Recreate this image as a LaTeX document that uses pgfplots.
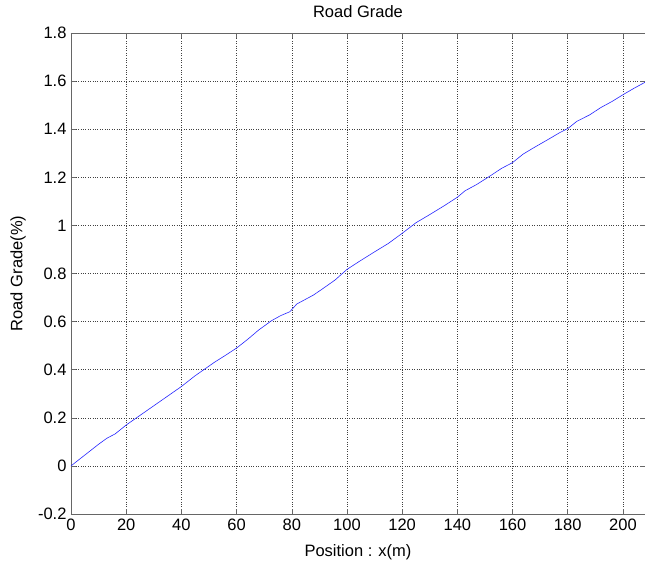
\documentclass[border=0pt]{standalone}
\usepackage{fontspec}
\setmainfont{Liberation Sans}
\usepackage{pgfplots}
\pgfplotsset{compat=1.18}
\begin{document}
\begin{tikzpicture}[x=1pt,y=1pt]
\begin{axis}[
  scale only axis,
  width=574pt, height=481pt,
  xmin=0, xmax=208, ymin=-0.2, ymax=1.8,
  xtick={0,20,...,200},
  ytick={-0.2,0,0.2,0.4,0.6,0.8,1,1.2,1.4,1.6,1.8},
  yticklabels={-0.2,0,0.2,0.4,0.6,0.8,1,1.2,1.4,1.6,1.8},
  /pgf/number format/assume math mode=true,
  tick align=inside,
  major tick length=5pt,
  tick style={color=black!60, line width=0.5pt},
  axis line style={color=black!60, line width=0.8pt},
  grid=major,
  major grid style={black!75, dotted, line width=0.5pt},
  ticklabel style={font=\fontsize{16.5}{18}\selectfont, text=black},
  xticklabel style={yshift=-1pt},
  yticklabel style={xshift=-1pt},
  every axis title shift=0pt,
  title={Road Grade},
  title style={font=\fontsize{16.5}{18}\selectfont, at={(axis description cs:0.5,1)}, anchor=center, yshift=21pt},
  xlabel={Position : x(m)},
  xlabel style={font=\fontsize{16.5}{18}\selectfont, at={(axis description cs:0.5,0)}, anchor=center, yshift=-38pt},
  ylabel={Road Grade(\%)},
  ylabel style={font=\fontsize{16.5}{18}\selectfont, at={(axis description cs:-0.0923,0.5)}, anchor=center},
  clip=false,
]
\coordinate (O) at (rel axis cs:0,0);
\addplot[color=blue!85!white, line width=0.6pt] coordinates {
(0,0) (5,0.045) (10,0.09) (13,0.115) (16,0.133) (20,0.17) (25,0.21) (30,0.25)
(35,0.29) (40,0.33) (45,0.375) (48,0.399) (52,0.431) (56,0.46) (60,0.49)
(64,0.526) (68,0.565) (72.7,0.604) (76,0.625) (79.3,0.641) (81.8,0.673)
(87.8,0.71) (91,0.735) (95.7,0.773) (100,0.817) (104.7,0.852) (110,0.89)
(115,0.925) (120,0.967) (125,1.011) (130,1.045) (135,1.08) (140,1.117)
(142.8,1.144) (147,1.17) (151.8,1.205) (156,1.237) (160,1.261) (163.9,1.297)
(168,1.325) (173.6,1.362) (177,1.385) (180.2,1.404) (183.2,1.432) (188,1.46)
(192,1.49) (196,1.515) (200.4,1.546) (204,1.57) (208,1.595)
};
\end{axis}
\pgfresetboundingbox
\path[use as bounding box] (O) ++(-71pt,-53pt) rectangle ++(645pt,567pt);
\end{tikzpicture}
\end{document}
